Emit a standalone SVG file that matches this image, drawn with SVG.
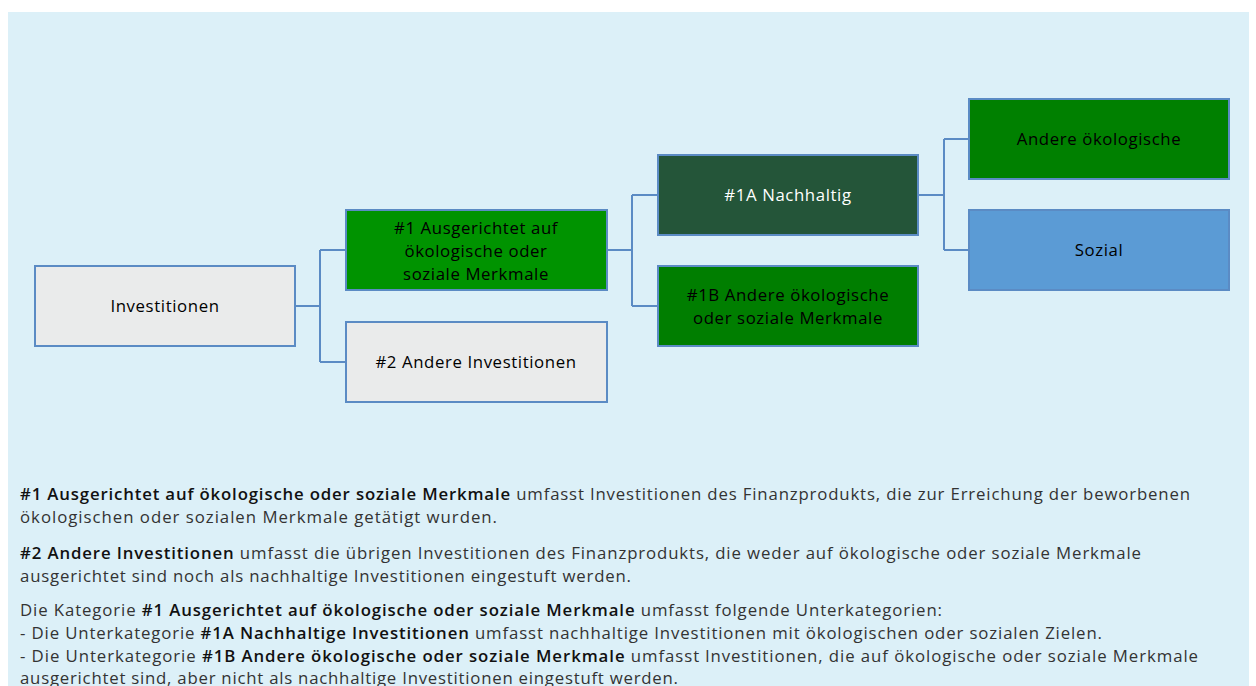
<svg xmlns="http://www.w3.org/2000/svg" width="1256" height="686" viewBox="0 0 1256 686">
<style>
.box{stroke:#5B8BC4;stroke-width:2}
.bt{font-family:"Open Sans","Liberation Sans",sans-serif;font-size:16.8px;letter-spacing:0.6px;text-anchor:middle;fill:#000}
.wt{fill:#fff}
.con{fill:none;stroke:#5B8BC4;stroke-width:2}
.desc{font-family:"Open Sans",sans-serif;font-size:16.8px;fill:#333}
.b{font-weight:600;fill:#111}
</style>
<rect x="0" y="0" width="1256" height="686" fill="#ffffff"/>
<rect x="8" y="12" width="1241" height="674" fill="#DCF0F8"/>
<g id="connectors">
<path class="con" d="M295,306 H320 M320,250 V362 M320,250 H346 M320,362 H346"/>
<path class="con" d="M607,250 H632 M632,195 V306 M632,195 H658 M632,306 H658"/>
<path class="con" d="M918,195 H944 M944,139 V250 M944,139 H969 M944,250 H969"/>
</g>
<g id="investitionen">
<rect class="box" x="35" y="266" width="260" height="80" fill="#EAEBEB"/>
<text class="bt" x="165" y="312">Investitionen</text>
</g>
<g id="n1">
<rect class="box" x="346" y="210" width="261" height="80" fill="#009300"/>
<text class="bt" x="476" y="234">#1 Ausgerichtet auf</text>
<text class="bt" x="476" y="257">ökologische oder</text>
<text class="bt" x="476" y="280">soziale Merkmale</text>
</g>
<g id="n2">
<rect class="box" x="346" y="322" width="261" height="80" fill="#EAEBEB"/>
<text class="bt" x="476" y="368">#2 Andere Investitionen</text>
</g>
<g id="n1a">
<rect class="box" x="658" y="155" width="260" height="80" fill="#245539"/>
<text class="bt wt" x="788" y="201">#1A Nachhaltig</text>
</g>
<g id="n1b">
<rect class="box" x="658" y="266" width="260" height="80" fill="#007E00"/>
<text class="bt" x="788" y="301">#1B Andere ökologische</text>
<text class="bt" x="788" y="324">oder soziale Merkmale</text>
</g>
<g id="andere">
<rect class="box" x="969" y="99" width="260" height="80" fill="#008000"/>
<text class="bt" x="1099" y="145">Andere ökologische</text>
</g>
<g id="sozial">
<rect class="box" x="969" y="210" width="260" height="80" fill="#5B9BD5"/>
<text class="bt" x="1099" y="256">Sozial</text>
</g>
<g id="description">
<text class="desc" x="20" y="500" textLength="1170" lengthAdjust="spacing"><tspan class="b">#1 Ausgerichtet auf ökologische oder soziale Merkmale</tspan> umfasst Investitionen des Finanzprodukts, die zur Erreichung der beworbenen</text>
<text class="desc" x="20" y="523" textLength="477" lengthAdjust="spacing">ökologischen oder sozialen Merkmale getätigt wurden.</text>
<text class="desc" x="20" y="559" textLength="1121" lengthAdjust="spacing"><tspan class="b">#2 Andere Investitionen</tspan> umfasst die übrigen Investitionen des Finanzprodukts, die weder auf ökologische oder soziale Merkmale</text>
<text class="desc" x="20" y="582" textLength="611" lengthAdjust="spacing">ausgerichtet sind noch als nachhaltige Investitionen eingestuft werden.</text>
<text class="desc" x="20" y="616" textLength="922" lengthAdjust="spacing">Die Kategorie <tspan class="b">#1 Ausgerichtet auf ökologische oder soziale Merkmale</tspan> umfasst folgende Unterkategorien:</text>
<text class="desc" x="20" y="639" textLength="1082" lengthAdjust="spacing">- Die Unterkategorie <tspan class="b">#1A Nachhaltige Investitionen</tspan> umfasst nachhaltige Investitionen mit ökologischen oder sozialen Zielen.</text>
<text class="desc" x="20" y="662" textLength="1178" lengthAdjust="spacing">- Die Unterkategorie <tspan class="b">#1B Andere ökologische oder soziale Merkmale</tspan> umfasst lnvestitionen, die auf ökologische oder soziale Merkmale</text>
<text class="desc" x="20" y="684" textLength="658" lengthAdjust="spacing">ausgerichtet sind, aber nicht als nachhaltige Investitionen eingestuft werden.</text>
</g>
</svg>
